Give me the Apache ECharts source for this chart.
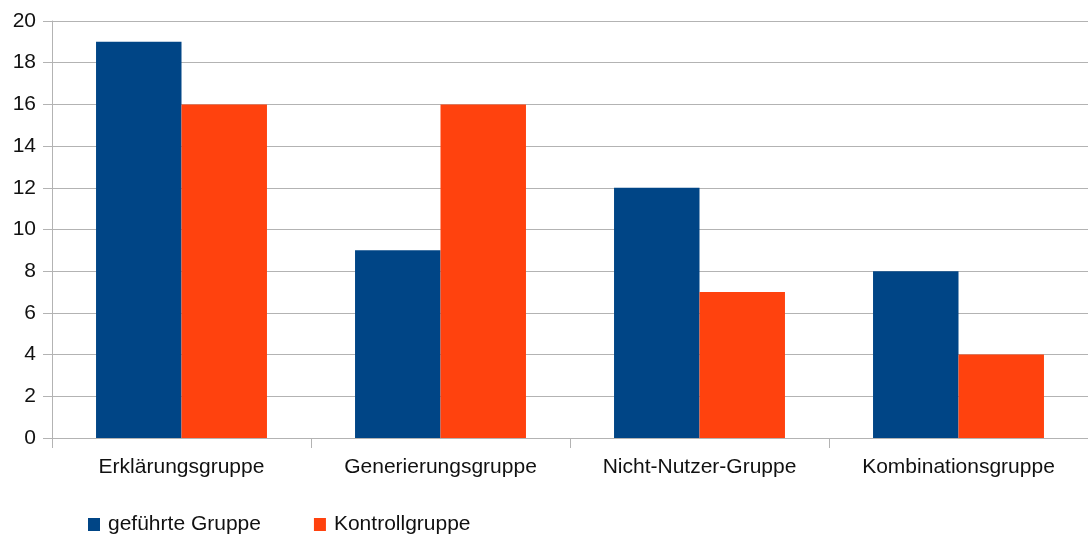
<!DOCTYPE html>
<html><head><meta charset="utf-8">
<script src="https://cdn.jsdelivr.net/npm/echarts@6/dist/echarts.min.js"></script>
<style>html,body{margin:0;padding:0;background:#fff}#c{width:1088px;height:541px}</style>
</head><body><div id="c"></div>
<script>
const categories = ['Erklärungsgruppe', 'Generierungsgruppe', 'Nicht-Nutzer-Gruppe', 'Kombinationsgruppe'];
const seriesNames = ['geführte Gruppe', 'Kontrollgruppe'];
const gefuehrte = [19, 9, 12, 8];
const kontroll = [16, 16, 7, 4];
const colors = ['#004586', '#ff420e'];

const chart = echarts.init(document.getElementById('c'), null, {renderer: 'canvas'});
const font = 'Liberation Sans, Arial, sans-serif';
chart.setOption({
  animation: false,
  color: colors,
  grid: {left: 52, right: 0, top: 21, bottom: 103, containLabel: false},
  legend: {
    left: 83, top: 509, itemWidth: 12, itemHeight: 13, itemGap: 53,
    icon: 'rect',
    textStyle: {fontFamily: font, fontSize: 21, color: '#111', padding: [0, 0, 0, 3]},
    data: seriesNames
  },
  xAxis: {
    type: 'category', data: categories,
    axisLine: {lineStyle: {color: '#b3b3b3', width: 1}},
    axisTick: {show: true, length: 10, lineStyle: {color: '#b3b3b3'}},
    axisLabel: {fontFamily: font, fontSize: 21, color: '#111', margin: 19}
  },
  yAxis: {
    type: 'value', min: 0, max: 20, interval: 2,
    axisLine: {show: true, lineStyle: {color: '#b3b3b3'}},
    axisTick: {show: true, length: 9, lineStyle: {color: '#b3b3b3'}},
    splitLine: {lineStyle: {color: '#b3b3b3', width: 1}},
    axisLabel: {fontFamily: font, fontSize: 21, color: '#111', margin: 16}
  },
  series: [
    {name: seriesNames[0], type: 'bar', data: gefuehrte, barGap: '0%', barCategoryGap: '34%'},
    {name: seriesNames[1], type: 'bar', data: kontroll, barGap: '0%', barCategoryGap: '34%'}
  ]
});
</script></body></html>
